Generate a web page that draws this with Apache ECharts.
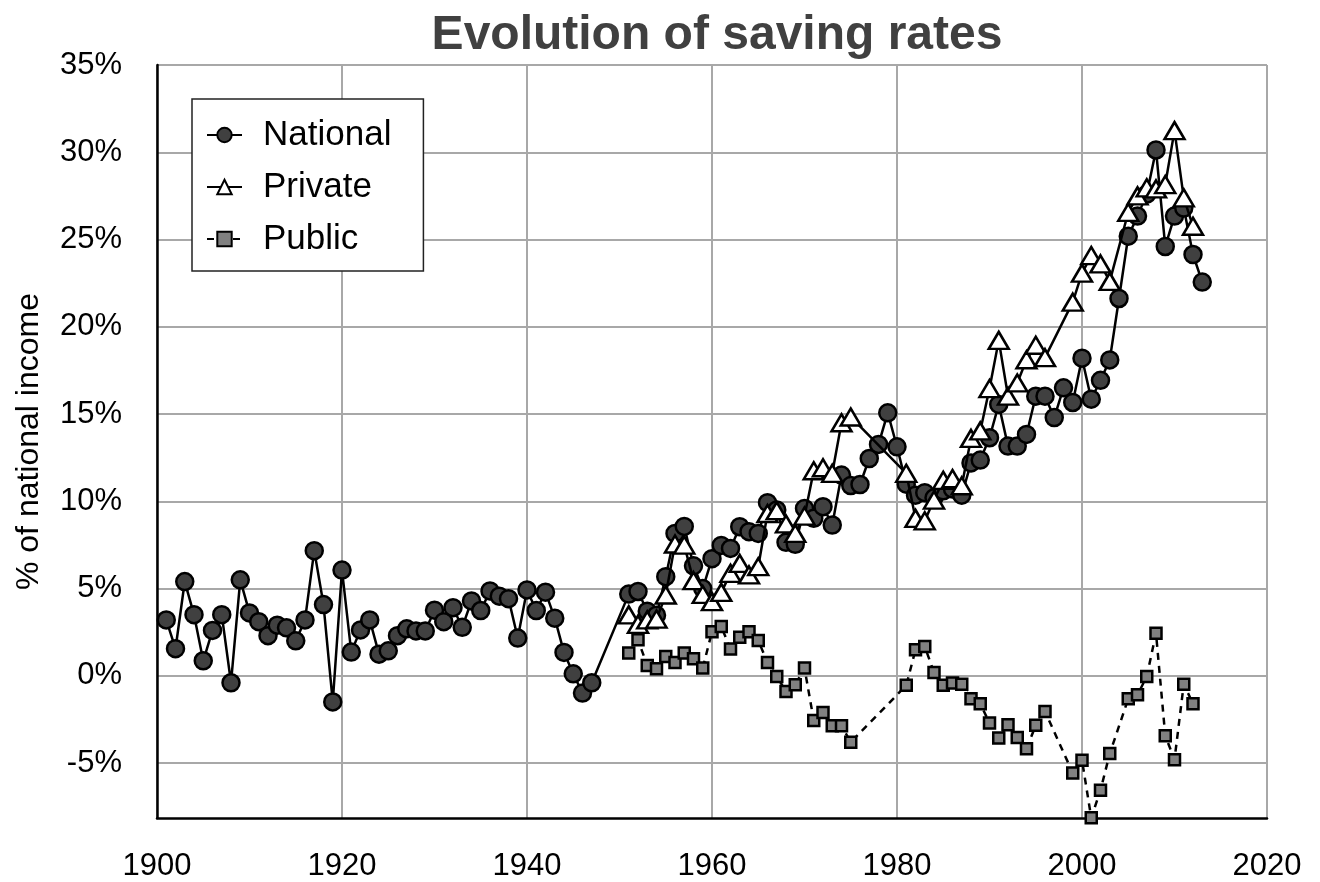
<!DOCTYPE html>
<html>
<head>
<meta charset="utf-8">
<script src="https://cdn.jsdelivr.net/npm/echarts@6/dist/echarts.min.js"></script>
<style>
html,body{margin:0;padding:0;background:#fff;}
#chart{width:1320px;height:882px;}
</style>
</head>
<body>
<div id="chart"></div>
<script>
const xTicks = [1900, 1920, 1940, 1960, 1980, 2000, 2020];
const yTicks = [-5, 0, 5, 10, 15, 20, 25, 30, 35];

const nationalYears = [1901,1902,1903,1904,1905,1906,1907,1908,1909,1910,1911,1912,1913,1914,1915,1916,1917,1918,1919,1920,
  1921,1922,1923,1924,1925,1926,1927,1928,1929,1930,1931,1932,1933,1934,1935,1936,1937,1938,1939,1940,
  1941,1942,1943,1944,1945,1946,1947,
  1951,1952,1953,1954,1955,1956,1957,1958,1959,1960,1961,1962,1963,1964,1965,1966,1967,1968,1969,1970,
  1971,1972,1973,1974,1975,1976,1977,1978,1979,1980,1981,1982,1983,1984,1985,1986,1987,1988,1989,1990,
  1991,1992,1993,1994,1995,1996,1997,1998,1999,2000,2001,2002,2003,2004,2005,2006,2007,2008,2009,2010,
  2011,2012,2013];
const nationalValues = [3.2,1.55,5.4,3.5,0.86,2.6,3.5,-0.4,5.5,3.6,3.1,2.3,2.9,2.75,2.0,3.2,7.17,4.08,-1.5,6.06,
  1.36,2.63,3.2,1.24,1.43,2.3,2.69,2.57,2.57,3.76,3.1,3.9,2.78,4.29,3.74,4.86,4.56,4.42,2.16,4.92,
  3.74,4.79,3.3,1.34,0.11,-0.99,-0.4,
  4.68,4.83,3.7,3.47,5.68,8.16,8.56,6.3,5.0,6.71,7.47,7.3,8.54,8.26,8.16,9.92,9.5,7.65,7.53,9.59,
  9.02,9.69,8.64,11.5,10.9,10.96,12.45,13.26,15.07,13.12,10.98,10.35,10.49,10.2,10.6,10.7,10.35,12.2,12.36,13.64,
  15.55,13.16,13.16,13.83,16.02,16.02,14.8,16.5,15.66,18.2,15.85,16.93,18.1,21.62,25.19,26.34,27.6,30.13,24.6,26.34,
  26.8,24.14,22.56];

const privateYears = [1951,1952,1953,1954,1955,1956,1957,1958,1959,1960,1961,1962,1963,1964,1965,1966,1967,1968,1969,1970,
  1971,1972,1973,1974,1975,
  1981,1982,1983,1984,1985,1986,1987,1988,1989,1990,1991,1992,1993,1994,1995,1996,
  1999,2000,2001,2002,2003,
  2005,2006,2007,2008,2009,2010,2011,2012];
const privateValues = [3.49,2.95,3.2,3.25,4.63,7.55,7.49,5.45,4.66,4.25,4.78,5.87,6.44,5.78,6.25,9.3,9.46,8.7,8.16,9.15,
  11.75,11.92,11.6,14.5,14.83,
  11.6,9.02,8.88,10.07,11.2,11.3,10.89,13.6,14.03,16.46,19.22,16.02,16.78,18.11,18.94,18.23,
  21.41,23.07,24.08,23.6,22.6,
  26.56,27.5,27.96,27.9,28.15,31.24,27.39,25.76];

const publicYears = [1951,1952,1953,1954,1955,1956,1957,1958,1959,1960,1961,1962,1963,1964,1965,1966,1967,1968,1969,1970,
  1971,1972,1973,1974,1975,
  1981,1982,1983,1984,1985,1986,1987,1988,1989,1990,1991,1992,1993,1994,1995,1996,
  1999,2000,2001,2002,2003,
  2005,2006,2007,2008,2009,2010,2011,2012];
const publicValues = [1.3,2.06,0.59,0.4,1.1,0.76,1.3,0.97,0.45,2.53,2.82,1.53,2.21,2.53,2.02,0.76,-0.04,-0.9,-0.51,0.44,
  -2.56,-2.1,-2.86,-2.86,-3.81,
  -0.55,1.49,1.68,0.19,-0.55,-0.42,-0.48,-1.32,-1.6,-2.71,-3.57,-2.8,-3.53,-4.18,-2.84,-2.04,
  -5.57,-4.84,-8.14,-6.56,-4.46,
  -1.32,-1.09,-0.04,2.44,-3.43,-4.81,-0.48,-1.6];

const pairs = (xs, ys) => xs.map((x, i) => [x, ys[i]]);
const FONT = 'Liberation Sans, Arial, Helvetica, sans-serif';

const chart = echarts.init(document.getElementById('chart'), null, {renderer: 'canvas'});
chart.setOption({
  animation: false,
  backgroundColor: '#ffffff',
  title: {
    text: 'Evolution of saving rates',
    left: 712,
    textAlign: 'center',
    top: 7,
    textStyle: {fontFamily: FONT, fontSize: 48, fontWeight: 'bold', color: '#404040'}
  },
  grid: {left: 157, right: 53, top: 65, bottom: 64, containLabel: false},
  legend: {
    orient: 'vertical',
    left: 192,
    top: 99,
    padding: [16, 32, 12, 14],
    itemGap: 12,
    itemWidth: 35,
    itemHeight: 18,
    backgroundColor: '#ffffff',
    borderColor: '#222',
    borderWidth: 1.5,
    borderRadius: 0,
    textStyle: {fontFamily: FONT, fontSize: 35, color: '#000', lineHeight: 40, padding: [0, 0, 0, 16]},
    data: ['National', 'Private', 'Public']
  },
  xAxis: {
    type: 'value',
    min: 1900,
    max: 2020,
    interval: 20,
    axisLine: {show: true, onZero: false, lineStyle: {color: '#000', width: 2.5}},
    axisTick: {show: false},
    splitLine: {show: true, lineStyle: {color: '#a8a8a8', width: 2}},
    axisLabel: {fontFamily: FONT, fontSize: 31, color: '#000', margin: 33,
      formatter: v => xTicks.includes(v) ? String(v) : ''}
  },
  yAxis: {
    type: 'value',
    min: -8.15,
    max: 35,
    name: '% of national income',
    nameLocation: 'middle',
    nameGap: 112,
    nameTextStyle: {fontFamily: FONT, fontSize: 32, color: '#000'},
    axisLine: {show: true, onZero: false, lineStyle: {color: '#000', width: 2.5}},
    axisTick: {show: false, customValues: yTicks},
    splitLine: {show: true, lineStyle: {color: '#a8a8a8', width: 2}},
    axisLabel: {fontFamily: FONT, fontSize: 31, color: '#000', margin: 35,
      customValues: yTicks,
      formatter: v => v + '%'}
  },
  series: [
    {
      name: 'National', type: 'line', data: pairs(nationalYears, nationalValues),
      symbol: 'circle', symbolSize: 17, clip: false,
      lineStyle: {color: '#000', width: 2.5},
      itemStyle: {color: '#404040', borderColor: '#000', borderWidth: 2.5},
      z: 2
    },
    {
      name: 'Private', type: 'line', data: pairs(privateYears, privateValues),
      symbol: 'triangle', symbolSize: [20, 17], clip: false,
      lineStyle: {color: '#000', width: 2.5},
      itemStyle: {color: '#ffffff', borderColor: '#000', borderWidth: 2.5},
      z: 3
    },
    {
      name: 'Public', type: 'line', data: pairs(publicYears, publicValues),
      symbol: 'rect', symbolSize: 11, clip: false,
      lineStyle: {color: '#000', width: 2.5, type: [7, 6]},
      itemStyle: {color: '#808080', borderColor: '#000', borderWidth: 2.5},
      z: 4
    }
  ]
});
</script>
</body>
</html>
